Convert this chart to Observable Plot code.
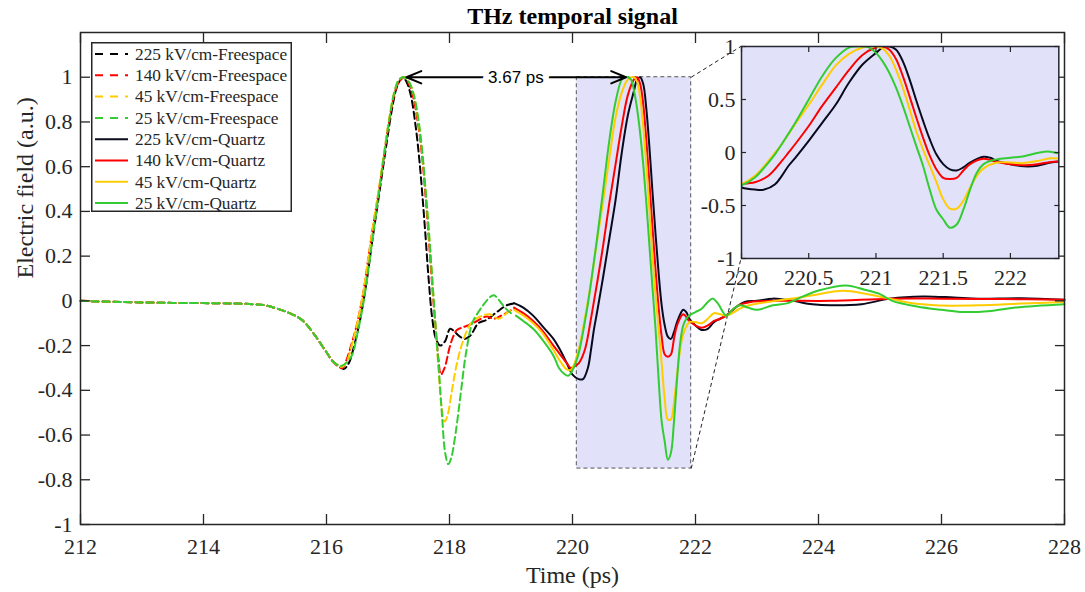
<!DOCTYPE html>
<html>
<head>
<meta charset="utf-8">
<script src="https://cdn.jsdelivr.net/npm/d3@7"></script>
<script src="https://cdn.jsdelivr.net/npm/@observablehq/plot@0.6"></script>
<style>
  body { margin: 0; background: #fff; }
  #wrap { position: relative; width: 1085px; height: 592px; font-family: "Liberation Serif", "Times New Roman", serif; }
  #wrap > svg, #wrap > div { position: absolute; }
</style>
</head>
<body>
<div id="wrap"></div>
<script>
// ---------------- data ----------------
const titleText = "THz temporal signal";
const xLabel = "Time (ps)";
const yLabel = "Electric field (a.u.)";
const xTicks = [212, 214, 216, 218, 220, 222, 224, 226, 228];
const yTicks = [-1, -0.8, -0.6, -0.4, -0.2, 0, 0.2, 0.4, 0.6, 0.8, 1];
const insetXTicks = [220, 220.5, 221, 221.5, 222];
const insetYTicks = [-1, -0.5, 0, 0.5, 1];

const seriesNames = [
  "225 kV/cm-Freespace", "140 kV/cm-Freespace", "45 kV/cm-Freespace", "25 kV/cm-Freespace",
  "225 kV/cm-Quartz", "140 kV/cm-Quartz", "45 kV/cm-Quartz", "25 kV/cm-Quartz"
];

// free-space pre-pulse baseline shared by the four free-space traces
const fsCommon = [[212.0, 0.0], [212.5, -0.004], [213.0, -0.007], [213.5, -0.009], [214.0, -0.01],
  [214.5, -0.012], [214.8, -0.015], [215.0, -0.02], [215.2, -0.035], [215.4, -0.055], [215.6, -0.085],
  [215.8, -0.15], [216.0, -0.23], [216.1, -0.27]];

const fs225 = fsCommon.concat([[216.2, -0.29], [216.28, -0.305], [216.36, -0.28], [216.45, -0.2],
  [216.55, -0.08], [216.66, 0.1], [216.74, 0.26], [216.82, 0.41], [216.9, 0.56], [216.98, 0.71],
  [217.06, 0.85], [217.15, 0.96], [217.24, 1.0], [217.3, 0.98], [217.37, 0.92], [217.45, 0.78],
  [217.51, 0.63], [217.56, 0.47], [217.61, 0.29], [217.66, 0.1], [217.72, -0.08], [217.78, -0.17],
  [217.85, -0.2], [217.93, -0.18], [218.01, -0.125], [218.09, -0.14], [218.17, -0.16], [218.25, -0.17],
  [218.34, -0.155], [218.47, -0.1], [218.6, -0.085], [218.77, -0.05], [218.93, -0.02], [219.1, -0.01]]);

const fs140 = fsCommon.concat([[216.2, -0.295], [216.26, -0.3], [216.33, -0.26], [216.41, -0.19],
  [216.49, -0.11], [216.6, 0.04], [216.68, 0.19], [216.76, 0.34], [216.85, 0.49], [216.93, 0.64],
  [217.01, 0.79], [217.1, 0.92], [217.18, 0.98], [217.27, 1.0], [217.34, 0.97], [217.41, 0.91],
  [217.5, 0.77], [217.56, 0.63], [217.61, 0.47], [217.66, 0.29], [217.71, 0.1], [217.77, -0.11],
  [217.82, -0.26], [217.86, -0.33], [217.92, -0.3], [218.0, -0.21], [218.06, -0.16], [218.12, -0.13],
  [218.2, -0.12], [218.3, -0.11], [218.45, -0.09], [218.6, -0.07], [218.72, -0.08], [218.85, -0.065],
  [218.98, -0.045], [219.05, -0.035]]);

const fs45 = fsCommon.concat([[216.2, -0.29], [216.25, -0.295], [216.33, -0.27], [216.41, -0.2],
  [216.5, -0.1], [216.6, 0.04], [216.68, 0.19], [216.76, 0.34], [216.85, 0.5], [216.93, 0.65],
  [217.01, 0.8], [217.1, 0.93], [217.18, 0.99], [217.26, 1.0], [217.34, 0.98], [217.42, 0.92],
  [217.5, 0.79], [217.56, 0.65], [217.61, 0.5], [217.66, 0.32], [217.71, 0.13], [217.77, -0.1],
  [217.82, -0.3], [217.87, -0.47], [217.92, -0.54], [217.97, -0.51], [218.04, -0.4], [218.12, -0.28],
  [218.22, -0.18], [218.35, -0.1], [218.5, -0.07], [218.65, -0.06], [218.8, -0.08], [218.95, -0.05],
  [219.05, -0.035]]);

const fs25 = fsCommon.concat([[216.2, -0.29], [216.25, -0.29], [216.33, -0.275], [216.42, -0.24],
  [216.5, -0.15], [216.6, -0.01], [216.68, 0.14], [216.76, 0.3], [216.85, 0.48], [216.93, 0.64],
  [217.01, 0.79], [217.1, 0.93], [217.18, 0.99], [217.26, 1.0], [217.34, 0.98], [217.42, 0.92],
  [217.5, 0.8], [217.56, 0.66], [217.61, 0.5], [217.66, 0.33], [217.71, 0.14], [217.77, -0.1],
  [217.83, -0.32], [217.88, -0.52], [217.93, -0.68], [217.98, -0.73], [218.03, -0.7], [218.1, -0.59],
  [218.18, -0.42], [218.27, -0.23], [218.37, -0.1], [218.47, -0.05], [218.56, -0.015], [218.65, 0.015],
  [218.72, 0.025], [218.8, 0.005], [218.9, -0.03], [219.0, -0.055], [219.05, -0.06]]);

const qz225 = [[219.05, -0.01], [219.2, -0.03], [219.36, -0.066], [219.5, -0.11], [219.69, -0.17],
  [219.8, -0.22], [219.91, -0.28], [220.0, -0.33], [220.1, -0.35], [220.17, -0.35], [220.25, -0.3],
  [220.3, -0.22], [220.35, -0.125], [220.4, -0.05], [220.5, 0.11], [220.6, 0.28], [220.7, 0.45],
  [220.8, 0.66], [220.9, 0.83], [221.0, 0.94], [221.05, 0.99], [221.1, 1.0], [221.15, 0.97],
  [221.2, 0.86], [221.25, 0.69], [221.3, 0.49], [221.35, 0.3], [221.4, 0.125], [221.45, -0.02],
  [221.5, -0.11], [221.55, -0.16], [221.6, -0.17], [221.65, -0.14], [221.7, -0.095], [221.8, -0.04],
  [221.85, -0.05], [221.9, -0.08], [222.0, -0.11], [222.1, -0.13], [222.2, -0.125], [222.3, -0.095],
  [222.4, -0.08], [222.5, -0.066], [222.65, -0.03], [222.8, -0.005], [223.0, 0.0], [223.26, 0.01],
  [223.58, 0.0], [223.9, -0.015], [224.2, -0.02], [224.7, -0.015], [225.16, 0.01], [225.7, 0.02],
  [226.2, 0.015], [226.6, 0.01], [227.3, 0.012], [228.0, 0.005]];

const qz140 = [[219.05, -0.03], [219.2, -0.055], [219.36, -0.09], [219.5, -0.13], [219.69, -0.2],
  [219.8, -0.24], [219.91, -0.28], [219.97, -0.3], [220.05, -0.29], [220.1, -0.28], [220.2, -0.22],
  [220.3, -0.08], [220.35, 0.0], [220.4, 0.08], [220.5, 0.25], [220.6, 0.44], [220.7, 0.61],
  [220.8, 0.78], [220.9, 0.92], [221.0, 0.99], [221.05, 1.0], [221.1, 0.97], [221.15, 0.88],
  [221.2, 0.72], [221.25, 0.53], [221.3, 0.33], [221.35, 0.14], [221.4, -0.03], [221.45, -0.16],
  [221.5, -0.24], [221.55, -0.25], [221.6, -0.24], [221.65, -0.17], [221.7, -0.11], [221.8, -0.06],
  [221.9, -0.09], [222.0, -0.11], [222.1, -0.12], [222.2, -0.11], [222.3, -0.09], [222.4, -0.08],
  [222.5, -0.066], [222.7, -0.02], [222.9, -0.005], [223.3, 0.0], [224.2, 0.0], [225.16, 0.01],
  [226.0, 0.01], [227.0, 0.008], [228.0, 0.005]];

const qz45 = [[219.05, -0.04], [219.2, -0.065], [219.36, -0.1], [219.5, -0.14], [219.69, -0.22],
  [219.8, -0.27], [219.9, -0.305], [219.97, -0.31], [220.0, -0.3], [220.1, -0.22], [220.2, -0.08],
  [220.25, 0.0], [220.3, 0.08], [220.4, 0.27], [220.5, 0.45], [220.6, 0.64], [220.7, 0.82],
  [220.8, 0.93], [220.9, 0.99], [221.0, 1.0], [221.05, 0.98], [221.1, 0.91], [221.15, 0.78],
  [221.2, 0.61], [221.25, 0.41], [221.3, 0.2], [221.35, 0.03], [221.4, -0.125], [221.45, -0.28],
  [221.5, -0.44], [221.55, -0.53], [221.6, -0.53], [221.65, -0.455], [221.7, -0.33], [221.75, -0.22],
  [221.8, -0.15], [221.9, -0.095], [222.0, -0.095], [222.1, -0.1], [222.2, -0.08], [222.3, -0.055],
  [222.4, -0.06], [222.5, -0.066], [222.8, -0.025], [223.3, 0.0], [223.7, 0.015], [224.0, 0.03],
  [224.4, 0.045], [224.8, 0.03], [225.16, 0.01], [225.5, -0.01], [225.9, -0.02], [226.6, -0.02],
  [227.3, -0.012], [228.0, -0.005]];

const qz25 = [[219.08, -0.066], [219.2, -0.09], [219.36, -0.125], [219.5, -0.17], [219.69, -0.245],
  [219.78, -0.3], [219.86, -0.325], [219.93, -0.335], [220.0, -0.31], [220.1, -0.235], [220.2, -0.095],
  [220.25, -0.015], [220.3, 0.08], [220.4, 0.28], [220.5, 0.5], [220.6, 0.72], [220.7, 0.89],
  [220.8, 0.99], [220.85, 1.0], [220.9, 1.0], [220.95, 0.99], [221.0, 0.94], [221.05, 0.86],
  [221.1, 0.75], [221.15, 0.61], [221.2, 0.44], [221.25, 0.25], [221.3, 0.06], [221.35, -0.125],
  [221.4, -0.35], [221.45, -0.54], [221.5, -0.63], [221.55, -0.71], [221.6, -0.68], [221.65, -0.54],
  [221.7, -0.35], [221.75, -0.19], [221.8, -0.11], [221.85, -0.08], [221.9, -0.065], [222.0, -0.05],
  [222.1, -0.035], [222.2, -0.005], [222.28, 0.01], [222.36, -0.01], [222.5, -0.066], [222.6, -0.04],
  [222.72, -0.02], [222.85, -0.03], [223.0, -0.04], [223.26, -0.02], [223.5, -0.01], [223.75, 0.02],
  [224.0, 0.046], [224.45, 0.069], [224.75, 0.05], [225.0, 0.03], [225.2, 0.0], [225.6, -0.025],
  [226.0, -0.04], [226.35, -0.05], [226.8, -0.045], [227.2, -0.03], [228.0, -0.015]];

const seriesData = [fs225, fs140, fs45, fs25, qz225, qz140, qz45, qz25];

// annotations (data units)
const zoomRegion = {x1: 220.07, x2: 221.93, y1: -0.75, y2: 1};
const insetBox = {x1: 222.74, x2: 227.9, y1: 0.19, y2: 1.138};
const delayArrow = {from: 217.3, to: 220.87, y: 1, mid: 219.08, label: "3.67 ps"};
const insetXDomain = [220, 222.36];
const insetYDomain = [-1, 1];

// ---------------- styles ----------------
const colors = ["#000000", "#ff0000", "#ffcc00", "#33cc33", "#0a0a1e", "#ff0000", "#ffcc00", "#33cc33"];
const dashes = ["7,4", "7,4", "7,4", "7,4", null, null, null, null];
const axisColor = "#262626";
const lavender = "#e1e1fa";
const serif = "Liberation Serif";

const rows = seriesData.flatMap((pts, i) => pts.map(([t, v]) => ({series: seriesNames[i], t, v})));
const lineMarks = (filterFn, extra = {}) => seriesNames.map((n, i) =>
  Plot.line(rows.filter(r => r.series === n && filterFn(r)), {
    x: "t", y: "v", stroke: colors[i], strokeWidth: 2, strokeDasharray: dashes[i],
    curve: "catmull-rom", strokeLinejoin: "round", ...extra
  }));

// inward tick marks on all four sides (box on)
const boxTicks = (xt, yt, len, sw) => [
  Plot.axisX({ticks: xt, anchor: "bottom", tickSize: len, dy: -len, tickFormat: () => "", color: axisColor, strokeWidth: sw}),
  Plot.axisX({ticks: xt, anchor: "top", tickSize: len, dy: len, tickFormat: () => "", color: axisColor, strokeWidth: sw}),
  Plot.axisY({ticks: yt, anchor: "left", tickSize: len, dx: len, tickFormat: () => "", color: axisColor, strokeWidth: sw}),
  Plot.axisY({ticks: yt, anchor: "right", tickSize: len, dx: -len, tickFormat: () => "", color: axisColor, strokeWidth: sw})
];

const W = 1085, H = 592;
const mL = 80, mR = 21, mT = 32, mB = 68;

const main = Plot.plot({
  width: W, height: H,
  marginLeft: mL, marginRight: mR, marginTop: mT, marginBottom: mB,
  x: {domain: [212, 228], label: null},
  y: {domain: [-1, 1.2], label: null},
  style: {fontFamily: serif, fontSize: "22px", color: "#262626", background: "white"},
  marks: [
    Plot.rect([zoomRegion], {x1: "x1", x2: "x2", y1: "y1", y2: "y2", fill: lavender,
      stroke: "#555", strokeDasharray: "4,3", strokeWidth: 1}),
    Plot.link([
      {x1: zoomRegion.x2, y1: zoomRegion.y2, x2: insetBox.x1, y2: insetBox.y2},
      {x1: zoomRegion.x2, y1: zoomRegion.y1, x2: insetBox.x1, y2: insetBox.y1}
    ], {x1: "x1", y1: "y1", x2: "x2", y2: "y2", stroke: "#222", strokeDasharray: "4,3", strokeWidth: 1}),
    ...lineMarks(() => true),
    Plot.frame({stroke: axisColor, strokeWidth: 1.5}),
    ...boxTicks(xTicks, yTicks, 10, 1.3),
    Plot.axisX({ticks: xTicks, anchor: "bottom", tickSize: 0, tickPadding: 14, tickFormat: d => String(d), fill: "#262626"}),
    Plot.axisY({ticks: yTicks, anchor: "left", tickSize: 0, tickPadding: 8, tickFormat: d => String(d), fill: "#262626"}),
    Plot.arrow([
      {x1: delayArrow.mid, x2: delayArrow.from},
      {x1: delayArrow.mid, x2: delayArrow.to}
    ], {x1: "x1", x2: "x2", y1: () => delayArrow.y, y2: () => delayArrow.y,
      stroke: "black", strokeWidth: 2, headLength: 12, headAngle: 45}),
    Plot.text([delayArrow.label], {x: () => delayArrow.mid, y: () => delayArrow.y, text: d => d,
      fontFamily: "Liberation Sans", fontSize: 17, fill: "black", stroke: "white", strokeWidth: 12}),
    Plot.text([titleText], {text: d => d, frameAnchor: "top", dy: -9, lineAnchor: "bottom",
      fontWeight: "bold", fontSize: 24, fill: "black"}),
    Plot.text([xLabel], {text: d => d, frameAnchor: "bottom", dy: 58, lineAnchor: "bottom",
      fontSize: 24, fill: "#262626"}),
    Plot.text([yLabel], {text: d => d, frameAnchor: "left", dx: -48, rotate: -90, lineAnchor: "bottom",
      fontSize: 24, fill: "#262626"})
  ]
});
main.style.left = "0px";
main.style.top = "0px";

const wrap = document.getElementById("wrap");
wrap.appendChild(main);

// ---------------- inset ----------------
const sx = main.scale("x"), sy = main.scale("y");
const ix1 = sx.apply(insetBox.x1), ix2 = sx.apply(insetBox.x2);
const iy1 = sy.apply(insetBox.y2), iy2 = sy.apply(insetBox.y1);
const imL = 44, imR = 10, imT = 12, imB = 36;

const inset = Plot.plot({
  width: (ix2 - ix1) + imL + imR,
  height: (iy2 - iy1) + imT + imB,
  marginLeft: imL, marginRight: imR, marginTop: imT, marginBottom: imB,
  x: {domain: insetXDomain, label: null},
  y: {domain: insetYDomain, label: null},
  style: {fontFamily: serif, fontSize: "22px", color: "#262626", background: "transparent", overflow: "visible"},
  marks: [
    Plot.frame({fill: lavender}),
    ...lineMarks(r => !dashes[seriesNames.indexOf(r.series)] && r.t >= 219.8 && r.t <= 222.6, {clip: true}),
    Plot.frame({stroke: "#262633", strokeWidth: 1.5}),
    ...boxTicks(insetXTicks, insetYTicks, 5, 1.2),
    Plot.axisX({ticks: insetXTicks, anchor: "bottom", tickSize: 0, tickPadding: 11, tickFormat: d => String(d), fill: "#262626"}),
    Plot.axisY({ticks: insetYTicks, anchor: "left", tickSize: 0, tickPadding: 6, tickFormat: d => String(d), fill: "#262626"})
  ]
});
inset.style.left = (ix1 - imL) + "px";
inset.style.top = (iy1 - imT) + "px";
wrap.appendChild(inset);

// ---------------- legend ----------------
const lg = document.createElement("div");
const lgW = 201, lgH = 170, rowH = 21.3;
lg.style.cssText = `left:91px;top:42px;width:${lgW}px;height:${lgH}px;background:#fff;`;
const lsvg = d3.create("svg").attr("width", lgW).attr("height", lgH).style("display", "block");
lsvg.append("rect").attr("x", 0.75).attr("y", 0.75).attr("width", lgW - 1.5).attr("height", lgH - 1.5)
  .attr("fill", "white").attr("stroke", axisColor).attr("stroke-width", 1.5);
seriesNames.forEach((n, i) => {
  const cy = 12 + i * rowH;
  lsvg.append("line").attr("x1", 4).attr("x2", 37).attr("y1", cy).attr("y2", cy)
    .attr("stroke", colors[i]).attr("stroke-width", 2)
    .attr("stroke-dasharray", dashes[i] ? "8,7" : null);
  lsvg.append("text").attr("x", 44).attr("y", cy).attr("dy", "0.34em")
    .attr("font-family", serif).attr("font-size", 17.3).attr("fill", "#262626").text(n);
});
lg.appendChild(lsvg.node());
wrap.appendChild(lg);
</script>
</body>
</html>
